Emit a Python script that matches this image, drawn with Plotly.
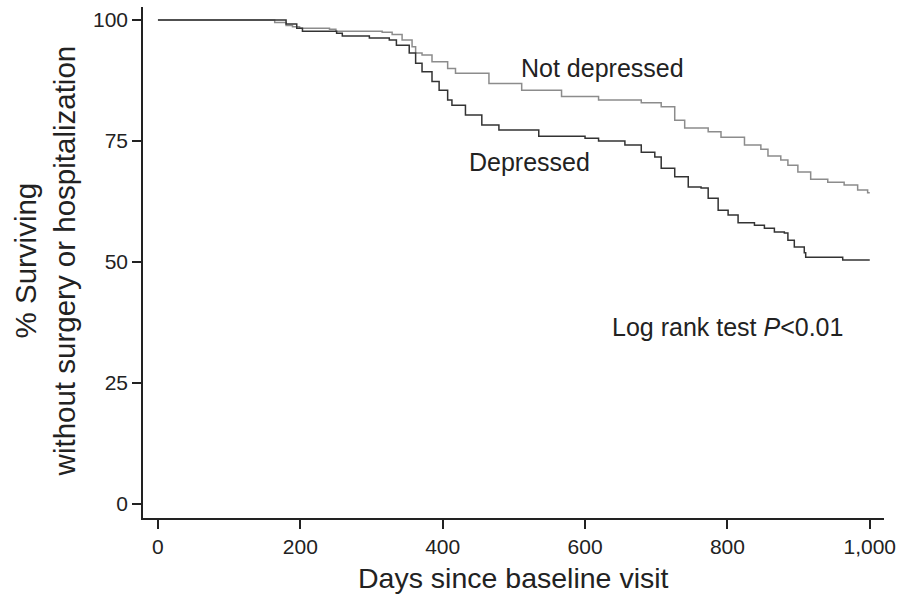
import plotly.graph_objects as go

# Kaplan-Meier style survival curves
not_dep_days = [0, 164, 180, 189, 199, 241, 250, 315, 329, 343, 357, 362, 371, 385, 407, 418,
                465, 511, 567, 619, 679, 707, 726, 740, 773, 791, 824, 847, 857, 875, 885,
                899, 917, 941, 964, 983, 997, 1000]
not_dep_pct = [100, 99.5, 98.9, 98.6, 98.3, 98.1, 97.7, 97.5, 97.0, 95.9, 94.5, 93.2, 92.8, 91.4,
               90.0, 89.0, 86.9, 85.5, 84.2, 83.5, 82.9, 82.1, 79.3, 77.7, 76.9, 75.8, 74.2,
               73.3, 71.9, 71.1, 70.0, 68.6, 67.1, 66.5, 65.9, 64.9, 64.3, 64.3]

dep_days = [0, 180, 195, 203, 251, 259, 297, 325, 335, 353, 362, 371, 385, 395, 407, 413, 432,
            455, 479, 535, 600, 619, 656, 679, 698, 707, 726, 745, 763, 773, 787, 801, 815,
            838, 852, 866, 880, 885, 894, 908, 910, 959, 962, 1000]
dep_pct = [100, 99.2, 98.3, 97.7, 97.3, 96.7, 96.3, 95.9, 94.8, 93.2, 91.1, 89.3, 87.3, 85.5,
           83.5, 82.4, 80.4, 78.3, 77.3, 76.0, 75.6, 75.0, 74.2, 72.7, 71.7, 69.4, 67.6, 65.5,
           65.3, 63.2, 60.7, 59.7, 58.1, 57.6, 57.0, 56.2, 56.0, 54.5, 53.1, 51.9, 51.0, 51.0,
           50.4, 50.4]

x_ticks = [0, 200, 400, 600, 800, 1000]
x_tick_labels = ["0", "200", "400", "600", "800", "1,000"]
y_ticks = [0, 25, 50, 75, 100]

FONT = "Liberation Sans, Arial, Helvetica, sans-serif"
TXT = "#222222"

W, H = 903, 603
L, R, T, B = 143, 16, 7, 85

fig = go.Figure()
fig.add_trace(go.Scatter(x=not_dep_days, y=not_dep_pct, mode="lines", line_shape="hv",
                         line=dict(color="#8c8c8c", width=1.5), name="Not depressed"))
fig.add_trace(go.Scatter(x=dep_days, y=dep_pct, mode="lines", line_shape="hv",
                         line=dict(color="#333333", width=1.5), name="Depressed"))

fig.update_layout(
    width=W, height=H,
    margin=dict(l=L, r=R, t=T, b=B),
    paper_bgcolor="white", plot_bgcolor="white",
    showlegend=False,
    font=dict(family=FONT, color=TXT),
    xaxis=dict(range=[-21, 1020], tickvals=x_ticks, ticktext=x_tick_labels,
               showline=True, linecolor="#222", linewidth=1.5, ticks="outside",
               ticklen=9, tickwidth=1.5, tickcolor="#222", showgrid=False, zeroline=False,
               tickfont=dict(size=21, family=FONT, color=TXT)),
    yaxis=dict(range=[-2.9, 102.7], tickvals=y_ticks,
               showline=True, linecolor="#222", linewidth=1.5, ticks="outside",
               ticklen=9, tickwidth=1.5, tickcolor="#222", showgrid=False, zeroline=False,
               tickfont=dict(size=21, family=FONT, color=TXT)),
)

pw, ph = W - L - R, H - T - B

# x-axis title
fig.add_annotation(x=(515 - L) / pw, y=(H - B - 578) / ph, xref="paper", yref="paper",
                   text="Days since baseline visit", showarrow=False,
                   xanchor="center", yanchor="middle",
                   font=dict(size=28.5, family=FONT, color=TXT))
# y-axis title (two lines)
fig.add_annotation(x=(44 - L) / pw, y=(H - B - 261) / ph, xref="paper", yref="paper",
                   text="% Surviving<br>without surgery or hospitalization",
                   textangle=-90, showarrow=False, xanchor="center", yanchor="middle",
                   font=dict(size=29.5, family=FONT, color=TXT))

annots = [
    dict(x=604, y=68, text="Not depressed"),
    dict(x=531, y=162, text="Depressed"),
    dict(x=730, y=327, text="Log rank test <i>P</i><0.01"),
]
for a in annots:
    fig.add_annotation(x=(a["x"] - L) / pw, y=(H - B - a["y"]) / ph, xref="paper", yref="paper",
                       text=a["text"], showarrow=False, xanchor="center", yanchor="middle",
                       font=dict(size=25, family=FONT, color=TXT))

fig.write_html("out.html", config={"displayModeBar": False},
               post_script="document.body.style.margin='0';document.body.style.overflow='hidden';")
